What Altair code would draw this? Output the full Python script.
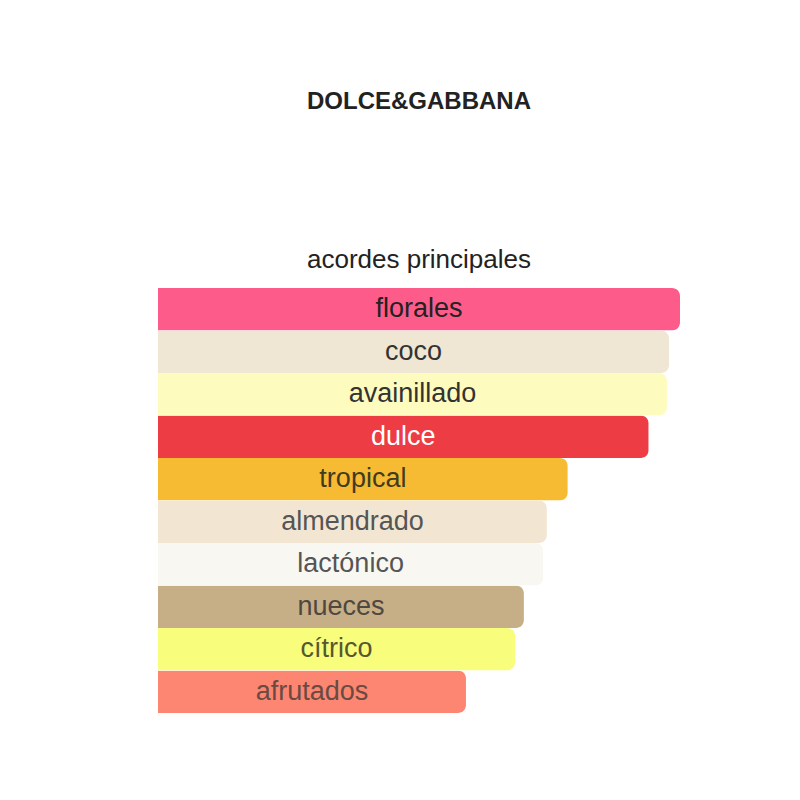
import altair as alt
import pandas as pd

accords = ["florales", "coco", "avainillado", "dulce", "tropical",
           "almendrado", "lactónico", "nueces", "cítrico", "afrutados"]
strength = [100, 97.9, 97.5, 94.0, 78.5, 74.5, 73.8, 70.1, 68.4, 59.0]
bar_colors = ["#fd5c8b", "#f0e6d4", "#fefbbf", "#ee3c45", "#f6bb33",
              "#f2e6d2", "#f9f7f2", "#c6ae87", "#f9fd7c", "#fc8671"]
text_colors = ["#222222", "#333333", "#333333", "#ffffff", "#433a22",
               "#555555", "#555555", "#4e4840", "#56582e", "#6a4a42"]

df = pd.DataFrame({"accord": accords, "value": strength})

y_enc = alt.Y("accord:N", sort=accords, axis=None,
              scale=alt.Scale(paddingInner=0, paddingOuter=0))
x_scale = alt.Scale(domain=[0, 100], nice=False, zero=True)

bars = alt.Chart(df).mark_bar(cornerRadiusEnd=8).encode(
    x=alt.X("value:Q", scale=x_scale, axis=None),
    y=y_enc,
    color=alt.Color("accord:N", scale=alt.Scale(domain=accords, range=bar_colors), legend=None),
)

labels = alt.Chart(df).transform_calculate(mid="datum.value / 2").mark_text(
    font="Liberation Sans", fontSize=27, align="center", baseline="middle"
).encode(
    x=alt.X("mid:Q", scale=x_scale, axis=None),
    y=y_enc,
    text=alt.Text("accord:N"),
    color=alt.Color("accord:N", scale=alt.Scale(domain=accords, range=text_colors), legend=None),
)

chart = alt.layer(bars, labels).resolve_scale(color="independent").properties(
    width=522,
    height=425,
    padding={"left": 150, "top": 82, "right": 10, "bottom": 10},
    background="white",
    title=alt.TitleParams(
        text="DOLCE&GABBANA",
        subtitle="acordes principales",
        font="Liberation Sans",
        fontSize=24,
        fontWeight="bold",
        color="#222222",
        subtitleFont="Liberation Sans",
        subtitleFontSize=26,
        subtitleColor="#222222",
        subtitlePadding=133,
        offset=15,
        anchor="middle",
    ),
).configure_view(stroke=None)

chart.save("out.html", embed_options={"renderer": "svg", "actions": False})
